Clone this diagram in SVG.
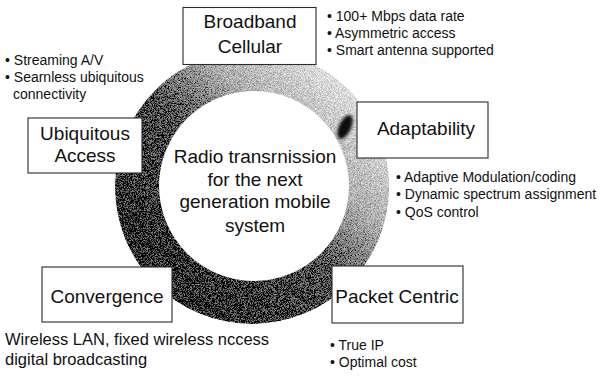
<svg xmlns="http://www.w3.org/2000/svg" width="601" height="380" viewBox="0 0 601 380">
  <style>
    .box { fill: #ffffff; stroke: #2a2a2a; stroke-width: 1.1; }
    .title { font-family: "Liberation Sans", Arial, sans-serif; font-size: 19px; fill: #111; text-anchor: middle; }
    .core { font-family: "Liberation Sans", Arial, sans-serif; font-size: 19px; fill: #111; text-anchor: middle; }
    .note { font-family: "Liberation Sans", Arial, sans-serif; font-size: 14px; fill: #111; }
    .plain { font-family: "Liberation Sans", Arial, sans-serif; font-size: 16.5px; fill: #111; }
  </style>
  <defs>
    <!-- ring shading: light at upper right, dark at lower left -->
    <linearGradient id="ringShade" x1="0.85" y1="0.15" x2="0.2" y2="0.8">
      <stop offset="0" stop-color="#e0e0e0"/>
      <stop offset="0.3" stop-color="#b0b0b0"/>
      <stop offset="0.55" stop-color="#5a5a5a"/>
      <stop offset="1" stop-color="#2a2a2a"/>
    </linearGradient>
    <!-- stippled print texture for the ring -->
    <filter id="stipple" x="0" y="0" width="100%" height="100%">
      <feTurbulence type="fractalNoise" baseFrequency="1.3" numOctaves="2" seed="4" result="noise"/>
      <feColorMatrix in="noise" type="matrix"
        values="0.33 0.33 0.33 0 0  0.33 0.33 0.33 0 0  0.33 0.33 0.33 0 0  0 0 0 0 1" result="grey"/>
      <feComponentTransfer in="grey" result="contrast">
        <feFuncR type="linear" slope="3.5" intercept="-1.25"/>
        <feFuncG type="linear" slope="3.5" intercept="-1.25"/>
        <feFuncB type="linear" slope="3.5" intercept="-1.25"/>
      </feComponentTransfer>
      <feComposite in="SourceGraphic" in2="contrast" operator="arithmetic" k1="0" k2="1" k3="0.5" k4="-0.25" result="mix"/>
      <feComposite in="mix" in2="SourceGraphic" operator="in"/>
    </filter>
    <filter id="smudge" x="-50%" y="-50%" width="200%" height="200%">
      <feGaussianBlur stdDeviation="1.5"/>
    </filter>
  </defs>

  <!-- central ring and hub -->
  <g id="hub">
    <circle cx="252" cy="187" r="137" fill="url(#ringShade)" filter="url(#stipple)"/>
    <ellipse cx="345" cy="127" rx="6" ry="13" transform="rotate(25 345 127)" fill="#111" filter="url(#smudge)"/>
    <circle cx="254" cy="186" r="95" fill="#ffffff"/>
    <text class="core" x="255" y="163">Radio transrnission</text>
    <text class="core" x="255" y="186">for the next</text>
    <text class="core" x="255" y="208">generation mobile</text>
    <text class="core" x="255" y="232">system</text>
  </g>

  <g id="broadband">
    <rect class="box" x="183" y="7.5" width="133" height="57"/>
    <text class="title" x="250" y="28">Broadband</text>
    <text class="title" x="250" y="53">Cellular</text>
  </g>
  <g id="broadband-notes">
    <text class="note" x="327" y="21">• 100+ Mbps data rate</text>
    <text class="note" x="327" y="38">• Asymmetric access</text>
    <text class="note" x="327" y="55">• Smart antenna supported</text>
  </g>

  <g id="ubiquitous">
    <rect class="box" x="28" y="118" width="114" height="55"/>
    <text class="title" x="85" y="140">Ubiquitous</text>
    <text class="title" x="85" y="162">Access</text>
  </g>
  <g id="ubiquitous-notes">
    <text class="note" x="5" y="65">• Streaming A/V</text>
    <text class="note" x="5" y="82">• Searnless ubiquitous</text>
    <text class="note" x="13" y="99">connectivity</text>
  </g>

  <g id="adaptability">
    <rect class="box" x="357" y="102" width="131" height="56"/>
    <text class="title" x="426" y="135">Adaptability</text>
  </g>
  <g id="adaptability-notes">
    <text class="note" x="396" y="182">• Adaptive Modulation/coding</text>
    <text class="note" x="396" y="199">• Dynamic spectrum assignment</text>
    <text class="note" x="396" y="217">• QoS control</text>
  </g>

  <g id="convergence">
    <rect class="box" x="42" y="267" width="130" height="55"/>
    <text class="title" x="107" y="303">Convergence</text>
  </g>
  <g id="convergence-notes">
    <text class="plain" x="5" y="345">Wireless LAN, fixed wireless nccess</text>
    <text class="plain" x="5" y="365">digital broadcasting</text>
  </g>

  <g id="packet">
    <rect class="box" x="332" y="266" width="131" height="57"/>
    <text class="title" x="397" y="303">Packet Centric</text>
  </g>
  <g id="packet-notes">
    <text class="note" x="330" y="350">• True IP</text>
    <text class="note" x="330" y="367">• Optimal cost</text>
  </g>
</svg>
